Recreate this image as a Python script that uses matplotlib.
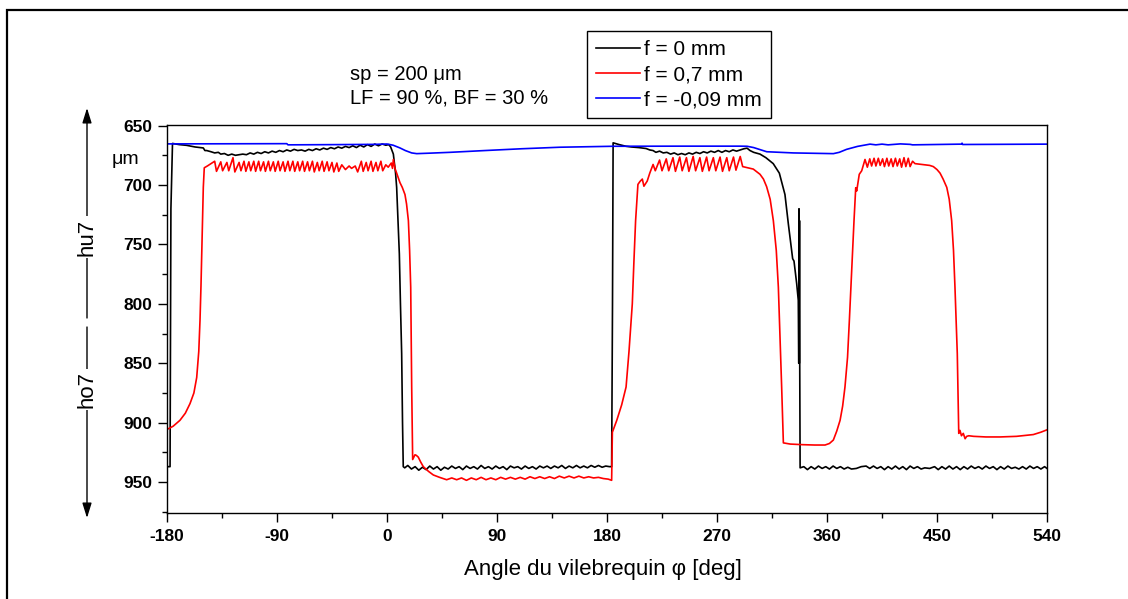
import numpy as np
import matplotlib.pyplot as plt
from matplotlib.patches import Rectangle, FancyArrowPatch
from matplotlib.ticker import MultipleLocator

# --- data: (crank angle deg, gap um) ---
black_part1 = [(-180, 937), (-177.5, 937), (-176.8, 720), (-175.5, 665), (-170, 666), (-164, 666.6),
               (-157, 668), (-150.3, 668.8), (-149, 671), (-147.5, 671), (-144, 672), (-141, 673),
               (-138, 672.5), (-136, 674), (-133, 673.5), (-130, 675), (-127, 674), (-124, 675),
               (-121, 674.5), (-118, 674), (-115, 674.5), (-112, 673), (-109, 674), (-106, 672.5),
               (-103, 673.5), (-100, 672), (-97, 673), (-94, 671.5), (-91, 672.5), (-88, 671),
               (-85, 672), (-82, 670.5), (-79, 671.5), (-76, 670), (-73, 671), (-70, 670.5),
               (-67, 671.5), (-64, 670), (-61, 671), (-58, 669.5), (-55, 670.5), (-52, 669),
               (-49, 670), (-46, 668.5), (-43, 669.5), (-40, 668), (-37, 669), (-34, 667.5),
               (-31, 668.5), (-28, 667), (-25, 668.5), (-22, 666.5), (-19, 668), (-16, 666),
               (-13, 667.5), (-10, 665.5), (-7, 667), (-4, 665.5), (-1, 666.5), (1.5, 666),
               (3, 668), (5.2, 674), (7, 690), (7.9, 702), (9, 730), (10.1, 758), (11, 800),
               (12, 842), (12.7, 900), (13.3, 937)]
black_part2 = [(14.5, 938), (17, 936), (20, 939), (23, 937), (26, 940), (29, 937.5), (32, 939.5),
               (35, 936.5), (38, 939), (41, 937), (44, 940), (47, 937.5), (50, 939), (53, 936.5),
               (56, 938.5), (59, 937), (62, 939.5), (65, 936.5), (68, 938.5), (71, 937), (74, 939),
               (77, 936), (80, 938.5), (83, 937), (86, 939), (89, 936.5), (92, 938.5), (95, 937),
               (98, 939.5), (101, 936.5), (104, 938), (107, 937), (110, 939), (113, 936.5),
               (116, 938.5), (119, 937), (122, 939), (125, 936.5), (128, 938), (131, 936.5),
               (134, 938.5), (137, 936.5), (140, 938), (143, 936), (146, 938.5), (149, 936.5),
               (152, 938), (155, 936), (158, 938), (161, 936.5), (164, 938), (167, 936),
               (170, 937.5), (173, 936), (176, 937.5), (179, 936.5), (182, 937), (183.8, 937)]
black_part3 = [(184.5, 800), (185, 664.5), (190, 666), (195.5, 667.4), (200, 668), (206, 668.5),
               (212, 669.3), (215, 670.5), (217.7, 671), (220, 672.5), (223, 671.5), (226, 673),
               (229, 672.5), (232, 674), (235, 673), (238, 674.5), (241, 673.5), (244, 674.5),
               (247, 673), (250, 674), (253, 672.5), (256, 673.5), (259, 672), (262, 673),
               (265, 671.5), (268, 672.5), (271, 671), (274, 672.5), (277, 671), (280, 672),
               (283, 670.5), (286, 671.5), (289, 670.5), (292, 669.5), (294.6, 669), (297, 671),
               (300, 672.5), (305.2, 674), (310, 677), (316, 682), (321, 690), (325.6, 708),
               (328.4, 733), (331.9, 762), (333, 764), (335.2, 783), (336.5, 797), (336.9, 850),
               (337.1, 720), (337.3, 850), (337.5, 730), (337.7, 852), (338.0, 938)]
black_part4 = [(341, 937), (344, 939.5), (347, 937), (350, 939), (353, 936.5), (356, 938.5),
               (359, 937), (362, 939), (365, 936.5), (368, 938.5), (371, 937), (374, 939),
               (377, 937.5), (380, 939), (384, 938.5), (388, 937), (392, 936.5), (395, 938.5),
               (398, 936.5), (401, 938.5), (404, 937), (407, 939.5), (410, 937), (413, 939),
               (416, 936.5), (419, 939), (422, 937), (425, 939.5), (428, 936.5), (431, 938.5),
               (434, 937), (437, 939), (440, 938), (444, 938.5), (448, 937), (451, 939.5),
               (454, 937), (457, 939), (460, 936.5), (463, 939), (466, 937), (469, 939.5),
               (472, 937), (475, 939), (478, 936.5), (481, 938.5), (484, 937), (487, 939),
               (490, 936.5), (493, 938.5), (496, 937), (499, 939.5), (502, 937), (505, 939),
               (508, 936.5), (511, 938.5), (514, 937.5), (517, 939), (520, 937), (523, 939),
               (526, 936.5), (529, 938.5), (532, 937), (535, 939), (538, 937), (540, 938.5)]

red_part1 = [(-180, 905.7), (-175, 903), (-169.4, 898), (-165, 892), (-161.2, 884), (-158, 875),
             (-155.7, 862), (-154, 840), (-153, 814), (-152.2, 785), (-151.6, 758), (-151, 730),
             (-150.3, 702), (-149.5, 685.5), (-147, 684), (-144, 682), (-141, 680), (-139.5, 688.5),
             (-136, 680.5), (-134.5, 688), (-131, 681), (-129.5, 688), (-126, 677), (-124.5, 689),
             (-121, 681), (-119.5, 688), (-117, 680), (-115.5, 688.5), (-113, 680.5), (-111.5, 688),
             (-109, 680), (-107.5, 688.5), (-105, 680), (-103.5, 688), (-101, 680.5), (-99.5, 688.5),
             (-97, 680), (-95.5, 688), (-93, 680.5), (-91.5, 688.5), (-89, 680), (-87.5, 688),
             (-85, 680.5), (-83.5, 688.5), (-81, 680), (-79.5, 688), (-77, 680), (-75.5, 688.5),
             (-73, 680.5), (-71.5, 688), (-69, 680), (-67.5, 688.5), (-65, 680.5), (-63.5, 688),
             (-61, 680), (-59.5, 689), (-57, 681), (-55.5, 688), (-53, 680), (-51.5, 688.5),
             (-49, 680.5), (-47.5, 688), (-45, 681), (-43.5, 689), (-41, 681.5), (-39.5, 688.5),
             (-37, 683), (-34, 687), (-31, 684), (-29, 686), (-26, 684), (-24, 689), (-21, 680),
             (-19.5, 688.5), (-17, 681), (-15.5, 688), (-13, 680), (-11.5, 688.5), (-9, 681),
             (-7.5, 688), (-5, 680), (-3.5, 688), (-1, 683), (1, 685), (3.5, 681.5), (4.5, 686),
             (5.2, 678.5), (6.5, 686), (7.9, 690), (10.6, 698), (12.5, 702), (14.7, 708), (16, 716),
             (17.5, 730), (18.5, 755), (19.4, 786), (20.2, 870), (21.0, 931), (22.0, 929),
             (22.9, 927), (24, 927.5), (25.6, 929), (27.5, 933), (29.7, 937), (34, 941),
             (37.9, 944), (43, 946), (48.8, 948)]
red_part2 = [(53, 946.5), (57, 948), (61, 946.5), (65, 948.5), (69, 946.5), (73, 948), (77, 946),
             (81, 948), (85, 946.5), (89, 948), (93, 946), (97, 947.5), (101, 946), (105, 947.5),
             (109, 946), (113, 947.5), (117, 945.5), (121, 947), (125, 945.5), (129, 947),
             (133, 945.5), (137, 947), (141, 945), (145, 946.5), (149, 945), (153, 946.5),
             (157, 945), (161, 946.5), (165, 945.5), (169, 946.5), (173, 946), (177, 947),
             (181, 947.5), (183.8, 948.5)]
red_part3 = [(184.4, 908), (188, 898), (192, 885), (195.6, 870), (198, 840), (200.7, 800), (202, 765),
             (203.4, 730), (205.3, 699.5), (207, 697), (208.9, 695), (210.2, 701), (212.9, 696.7),
             (215, 690), (217.7, 682.7), (219.5, 688), (223, 679), (225, 688), (228.5, 678),
             (230.5, 688), (234, 677), (236, 688.5), (239.5, 676.5), (241.5, 688), (245, 677),
             (247, 688.5), (250.5, 676), (252.5, 688), (256, 677), (258, 688.5), (261.5, 676.5),
             (263.5, 688), (267, 677), (269, 688), (272.5, 676.5), (274.5, 688.5), (278, 677),
             (280, 688), (283.5, 676.5), (285.5, 687.5), (289, 676), (291, 684.5), (293, 685),
             (299.7, 686.6), (305.2, 691), (308, 695), (310.6, 701.4), (313.5, 712), (316.1, 730),
             (318.5, 755), (320.2, 786), (322.9, 870), (324.3, 917), (330, 918), (340, 918.5),
             (350, 918.8), (358.4, 918.8), (362, 917.5), (365.2, 914.6), (368, 907), (370.7, 898),
             (372.8, 886), (374.7, 870), (376.8, 845), (378.3, 814), (380.2, 772), (382.1, 730),
             (383.5, 702.3), (384.3, 705), (386.4, 691), (388.4, 688), (391.1, 678.5)]
red_part4 = [(393, 685), (395, 678), (396.5, 684), (398.5, 677.5), (400, 684), (402, 677.5),
             (403.5, 683.5), (405.5, 678), (407, 684.5), (409, 677.5), (410.5, 684), (412.5, 678),
             (414, 684.5), (416, 677.5), (417.5, 684), (419.5, 678), (421, 685), (423, 677),
             (424.5, 684.5), (426.5, 677.5), (428, 684.5), (430, 680), (432, 682), (436, 682.5),
             (440, 683), (444, 683.5), (447, 684.5), (450, 687), (452.5, 690), (455, 695),
             (458, 702), (460, 712), (462, 730), (463.5, 755), (464.7, 786), (466.6, 842),
             (467.8, 909), (468.8, 906.5), (470, 911), (471.5, 909), (473, 913.5), (474.3, 911.5),
             (476, 911), (480, 911.5), (490, 912), (501.6, 912), (515, 911.5), (528.8, 910),
             (535, 908), (540, 906)]

blue_curve = [(-180, 665.4), (-130, 665.3), (-82, 665.2), (-81, 666.2), (-40, 666), (-10, 665.8),
              (0, 665.5), (5, 666.5), (10.6, 668.8), (15, 671), (20.2, 673), (24.3, 673.6),
              (35, 673.2), (51.5, 672.5), (80, 671), (110, 669.5), (141.6, 668.2), (185, 667.4),
              (240, 667.3), (289, 667.3), (294.6, 667.4), (300, 668.5), (310.7, 672), (332.4, 673),
              (365.2, 673.6), (370, 672.5), (376, 670), (385, 667.5), (395.2, 665.6), (400, 666.2),
              (405, 665.6), (410, 666.2), (420, 665.4), (428, 665.8), (430, 666.2), (470, 665.6),
              (470.5, 664.8), (471, 665.9), (540, 665.6)]

series_labels = ['f = 0 mm', 'f = 0,7 mm', 'f = -0,09 mm']
series_colors = ['black', '#ff0000', '#0000ff']

x_ticks = [-180, -90, 0, 90, 180, 270, 360, 450, 540]
x_tick_labels = ['-180', '-90', '0', '90', '180', '270', '360', '450', '540']
y_ticks = [650, 700, 750, 800, 850, 900, 950]
y_tick_labels = ['650', '700', '750', '800', '850', '900', '950']

plt.rcParams['font.family'] = ['Liberation Sans', 'DejaVu Sans']
plt.rcParams['axes.unicode_minus'] = False

W, H = 1128, 599
fig = plt.figure(figsize=(W / 100, H / 100), dpi=100)
ax = fig.add_axes([167 / W, 86 / H, 880 / W, 388 / H])

black = np.array(black_part1 + black_part2 + black_part3 + black_part4)
red = np.array(red_part1 + red_part2 + red_part3 + red_part4)
blue = np.array(blue_curve)

lines = []
for data, col, lab in zip([black, red, blue], series_colors, series_labels):
    ln, = ax.plot(data[:, 0], data[:, 1], color=col, lw=1.2, label=lab)
    lines.append(ln)

ax.set_xlim(-180, 540)
ax.set_ylim(976, 649.5)
ax.set_xticks(x_ticks, labels=x_tick_labels, fontweight='bold', fontsize=12.5)
ax.set_yticks(y_ticks, labels=y_tick_labels, fontweight='bold', fontsize=12.5)
ax.xaxis.set_minor_locator(MultipleLocator(45))
ax.yaxis.set_minor_locator(MultipleLocator(25))
ax.tick_params(which='major', direction='out', length=6.5, width=1.0)
ax.tick_params(axis='y', which='major', pad=4)
ax.tick_params(axis='x', which='major', pad=5)
ax.tick_params(which='minor', direction='out', length=3.6, width=1.0)
for sp in ax.spines.values():
    sp.set_linewidth(1.0)

leg = ax.legend(lines, series_labels, loc='upper left', bbox_to_anchor=(587 / W, 1 - 31 / H),
                bbox_transform=fig.transFigure, fontsize=15, frameon=True, fancybox=False,
                edgecolor='black', framealpha=1, borderpad=0.45, labelspacing=0.28,
                handlelength=2.1, handletextpad=0.2, borderaxespad=0)
leg.get_frame().set_linewidth(1.0)

fig.text(350 / W, 1 - 75 / H, 'sp = 200 μm', fontsize=14.5, va='center')
fig.text(350 / W, 1 - 98 / H, 'LF = 90 %, BF = 30 %', fontsize=14.5, va='center')
fig.text(125 / W, 1 - 159 / H, 'μm', fontsize=14, ha='center', va='center')
fig.text(603 / W, 1 - 570 / H, 'Angle du vilebrequin φ [deg]', fontsize=16, ha='center', va='center')

# left hu7 / ho7 arrows
xa = 87 / W
for y0, y1 in [(318, 108), (327, 518)]:
    fig.add_artist(FancyArrowPatch((xa, 1 - y0 / H), (xa, 1 - y1 / H), transform=fig.transFigure,
                                   arrowstyle='-|>,head_length=0.9,head_width=0.28', mutation_scale=10,
                                   color='black', lw=1.0, shrinkA=0, shrinkB=0, zorder=1))
fig.text(xa, 1 - 237 / H, 'hu7', rotation=90, fontsize=16, ha='center', va='center', zorder=5,
         bbox=dict(facecolor='white', edgecolor='none', pad=1.5))
fig.text(xa, 1 - 389 / H, 'ho7', rotation=90, fontsize=16, ha='center', va='center', zorder=5,
         bbox=dict(facecolor='white', edgecolor='none', pad=1.5))

# outer frame
fig.add_artist(Rectangle((7 / W, -0.1), 1.2, 1.1 - 10 / H, transform=fig.transFigure,
                         fill=False, edgecolor='black', lw=1.6))

fig.savefig('out.png', dpi=100)
